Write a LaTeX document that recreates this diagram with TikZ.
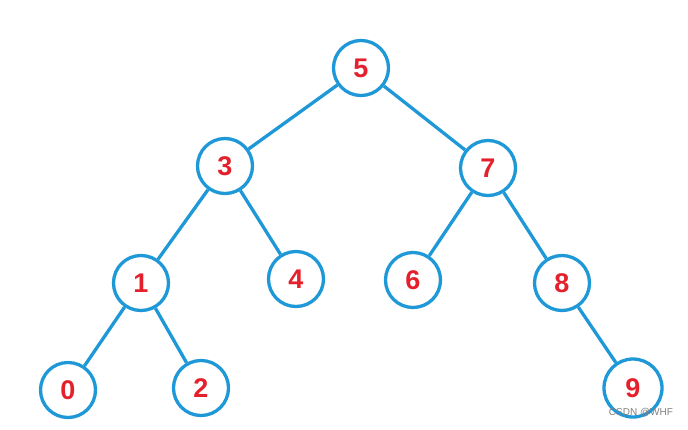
\documentclass[tikz,border=0pt]{standalone}
\usepackage{fontspec}
\setmainfont{Liberation Sans}
\definecolor{treeblue}{RGB}{30,152,214}
\definecolor{treered}{RGB}{228,32,44}
\begin{document}
\begin{tikzpicture}[x=1pt,y=-1pt,
  tnode/.style={circle,draw=treeblue,line width=3.3pt,minimum size=55pt,inner sep=0pt,
    text=treered,font=\fontsize{27}{27}\selectfont\bfseries},
  tedge/.style={draw=treeblue,line width=3.3pt}]
\useasboundingbox (0,0) rectangle (688,429);
\node[tnode] (n5) at (361,68) {5};
\node[tnode] (n3) at (225,166) {3};
\node[tnode] (n7) at (488,168) {7};
\node[tnode] (n1) at (141,283) {1};
\node[tnode] (n4) at (296,279) {4};
\node[tnode] (n6) at (413,280) {6};
\node[tnode] (n8) at (562,283) {8};
\node[tnode] (n0) at (68,390) {0};
\node[tnode] (n2) at (201,388) {2};
\node[tnode,minimum size=58pt] (n9) at (633,388) {9};
\draw[tedge] (n5) -- (n3);
\draw[tedge] (n5) -- (n7);
\draw[tedge] (n3) -- (n1);
\draw[tedge] (n3) -- (n4);
\draw[tedge] (n7) -- (n6);
\draw[tedge] (n7) -- (n8);
\draw[tedge] (n1) -- (n0);
\draw[tedge] (n1) -- (n2);
\draw[tedge] (n8) -- (n9);
\node[text=gray,font=\fontsize{10}{10}\selectfont,anchor=center] (wm) at (641,413) {CSDN @WHF};
\end{tikzpicture}
\end{document}
